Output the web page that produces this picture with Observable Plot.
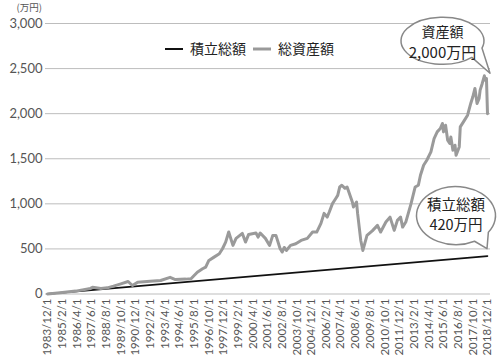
<!DOCTYPE html>
<html><head><meta charset="utf-8">
<script src="https://cdn.jsdelivr.net/npm/d3@7"></script>
<script src="https://cdn.jsdelivr.net/npm/@observablehq/plot@0.6"></script>
<style>
body{margin:0;background:#fff;}
#chart{width:500px;height:359px;}
</style></head><body><div id="chart"></div>
<script>
// ---- data ----
const months = ["1983-12","1984-12","1986-03","1987-05","1987-07","1988-03","1988-09","1989-03","1989-10","1990-05","1990-09","1991-02","1992-02","1992-12","1993-09","1994-02","1994-12","1995-05","1995-11","1996-04","1996-07","1996-10","1997-03","1997-08","1997-11","1998-02","1998-05","1998-09","1998-12","1999-06","1999-09","1999-12","2000-07","2000-09","2000-11","2001-04","2001-08","2001-11","2002-02","2002-06","2002-08","2002-10","2002-12","2003-04","2003-09","2004-02","2004-08","2005-01","2005-05","2005-09","2005-12","2006-03","2006-05","2006-08","2006-11","2007-01","2007-03","2007-05","2007-08","2007-10","2008-03","2008-04","2008-07","2008-08","2008-11","2009-01","2009-05","2009-10","2010-03","2010-06","2010-11","2011-03","2011-07","2011-10","2012-01","2012-03","2012-06","2012-11","2013-03","2013-06","2013-08","2013-11","2014-02","2014-06","2014-09","2014-12","2015-03","2015-05","2015-06","2015-08","2015-10","2015-12","2016-01","2016-03","2016-05","2016-06","2016-09","2016-10","2017-01","2017-05","2017-08","2017-10","2017-12","2018-02","2018-04","2018-05","2018-07","2018-09","2018-10","2018-11","2018-12"];
const totalAssets = [1,14,32,62,75,62,68,87,113,139,94,131,142,150,185,160,165,169,242,280,298,372,409,446,502,576,687,539,617,672,576,661,676,631,676,617,539,650,650,505,465,516,483,539,557,594,617,687,687,783,894,853,909,1002,1057,1094,1187,1206,1172,1187,1020,965,1020,894,594,483,650,700,761,687,798,853,706,817,853,742,798,1002,1187,1206,1317,1428,1483,1576,1724,1798,1835,1891,1798,1872,1706,1669,1742,1594,1650,1539,1631,1853,1909,1983,2113,2187,2280,2113,2169,2261,2335,2420,2372,2390,2000];
const accumMonths = ["1983-12","2018-12"];
const accumValues = [1,420];
const xTickLabels = ["1983/12/1","1985/2/1","1986/4/1","1987/6/1","1988/8/1","1989/10/1","1990/12/1","1992/2/1","1993/4/1","1994/6/1","1995/8/1","1996/10/1","1997/12/1","1999/2/1","2000/4/1","2001/6/1","2002/8/1","2003/10/1","2004/12/1","2006/2/1","2007/4/1","2008/6/1","2009/8/1","2010/10/1","2011/12/1","2013/2/1","2014/4/1","2015/6/1","2016/8/1","2017/10/1","2018/12/1"];
const yTicks = [0,500,1000,1500,2000,2500,3000];
const unitLabel = "(万円)";
const seriesNames = ["積立総額","総資産額"];
const seriesColors = ["#111","#9a9a9a"];
const bubbleAsset = ["資産額","2,000万円"];
const bubbleAccum = ["積立総額","420万円"];

// ---- build ----
const parseM = d3.utcParse("%Y-%m");
const parseT = d3.utcParse("%Y/%m/%d");
const assets = months.map((m,i)=>({date:parseM(m), value:totalAssets[i]}));
const accum = accumMonths.map((m,i)=>({date:parseM(m), value:accumValues[i]}));
const tickDates = xTickLabels.map(s=>parseT(s));
const FONT = "'Noto Sans CJK JP','Noto Sans',sans-serif";
const NUMFONT = "Lato,'Noto Sans',sans-serif";

const chart = Plot.plot({
  width:500, height:359,
  marginTop:23, marginBottom:65.5, marginLeft:45, marginRight:10,
  x:{type:"utc", domain:[tickDates[0], tickDates[tickDates.length-1]], insetLeft:2, insetRight:3},
  y:{domain:[0,3000]},
  style:{fontFamily:FONT, color:"#555", background:"white", overflow:"visible"},
  marks:[
    Plot.gridY(yTicks,{stroke:"#bdbdbd", strokeOpacity:1, strokeWidth:1}),
    Plot.axisY(yTicks,{tickSize:0, tickPadding:3, tickFormat:d3.format(","), fontSize:13, fontFamily:NUMFONT, label:null}),
    Plot.axisX(tickDates,{tickSize:0, tickRotate:-90, tickPadding:4.5, tickFormat:d3.utcFormat("%Y/%-m/%-d"), fontSize:11.5, fontFamily:NUMFONT, label:null}),
    Plot.line(accum,{x:"date", y:"value", stroke:seriesColors[0], strokeWidth:1.6}),
    Plot.line(assets,{x:"date", y:"value", stroke:seriesColors[1], strokeWidth:3, strokeLinejoin:"round"})
  ]
});
document.getElementById("chart").appendChild(chart);

const svg = d3.select(chart);
const sx = chart.scale("x"), sy = chart.scale("y");

// unit label
svg.append("text").attr("x",42).attr("y",11.3).attr("text-anchor","end")
  .attr("font-size",9.5).attr("fill","#555").attr("font-family",FONT).text(unitLabel);

// legend
const lg = svg.append("g").attr("font-family",FONT).attr("font-size",14).attr("fill","#222").attr("text-anchor","start");
const legendX = [165, 253];
seriesNames.forEach((n,i)=>{
  lg.append("line").attr("x1",legendX[i]).attr("x2",legendX[i]+18).attr("y1",49).attr("y2",49)
    .attr("stroke",seriesColors[i]).attr("stroke-width",i?3:2);
  lg.append("text").attr("x",legendX[i]+25).attr("y",54).attr("text-anchor","start").text(n);
});

// speech bubbles
function bubble(tip, c, rx, ry, a1, a2, lines, sizes, offs){
  const rad = a=>a*Math.PI/180;
  const p1 = [c[0]+rx*Math.cos(rad(a1)), c[1]+ry*Math.sin(rad(a1))];
  const p2 = [c[0]+rx*Math.cos(rad(a2)), c[1]+ry*Math.sin(rad(a2))];
  svg.append("path")
    .attr("d",`M${p2[0]},${p2[1]} A${rx},${ry} 0 1 1 ${p1[0]},${p1[1]} L${tip[0]},${tip[1]} Z`)
    .attr("fill","white").attr("stroke","#888").attr("stroke-width",1.5).attr("stroke-linejoin","round");
  lines.forEach((t,i)=>{
    svg.append("text").attr("x",c[0]).attr("y",c[1]+offs[i]).attr("text-anchor","middle")
      .attr("font-family",FONT).attr("font-size",sizes[i]).attr("fill","#222").text(t);
  });
}
const endDate = assets[assets.length-1].date;
const peakVal = d3.max(totalAssets);
const tip1 = [sx.apply(endDate)+3, sy.apply(peakVal)-2];
bubble(tip1, [tip1[0]-47.5, tip1[1]-32.5], 41.5, 23.5, 18, 45, bubbleAsset, [14,15], [-3.5,17]);
const accEnd = accum[accum.length-1];
const tip2 = [sx.apply(accEnd.date), sy.apply(accEnd.value)-7];
bubble(tip2, [tip2[0]-31, tip2[1]-33], 39.5, 29, 35, 62, bubbleAccum, [14.5,14.5], [-6,14]);
</script>
</body></html>
